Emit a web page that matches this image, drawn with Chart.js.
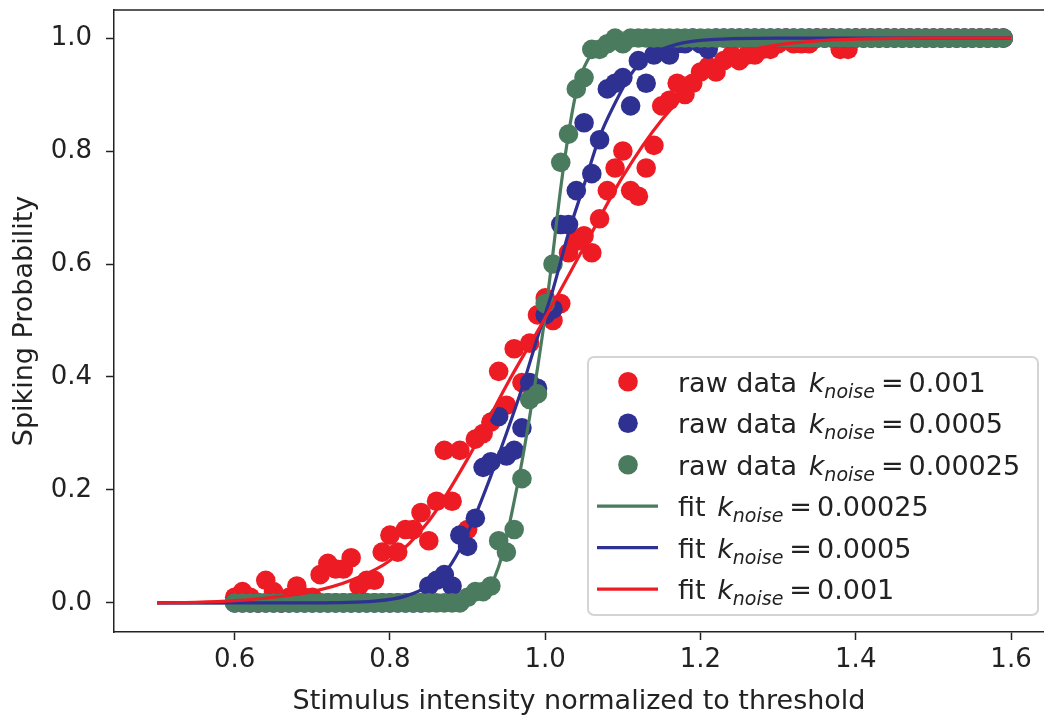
<!DOCTYPE html>
<html>
<head>
<meta charset="utf-8">
<title>Spiking probability</title>
<script src="https://cdn.jsdelivr.net/npm/chart.js@4.4.1/dist/chart.umd.min.js"></script>
<style>
    html, body { margin: 0; padding: 0; background: #fff; }
    #wrap { width: 1044px; height: 719px; }
</style>
</head>
<body>
<div id="wrap"><canvas id="myChart" width="1044" height="719"></canvas></div>
<script>
// stimulus values shared by all three raw series
const stimulus = [
    0.60, 0.61, 0.62, 0.63, 0.64, 0.65, 0.66, 0.67, 0.68, 0.69,
    0.70, 0.71, 0.72, 0.73, 0.74, 0.75, 0.76, 0.77, 0.78, 0.79,
    0.80, 0.81, 0.82, 0.83, 0.84, 0.85, 0.86, 0.87, 0.88, 0.89,
    0.90, 0.91, 0.92, 0.93, 0.94, 0.95, 0.96, 0.97, 0.98, 0.99,
    1.00, 1.01, 1.02, 1.03, 1.04, 1.05, 1.06, 1.07, 1.08, 1.09,
    1.10, 1.11, 1.12, 1.13, 1.14, 1.15, 1.16, 1.17, 1.18, 1.19,
    1.20, 1.21, 1.22, 1.23, 1.24, 1.25, 1.26, 1.27, 1.28, 1.29,
    1.30, 1.31, 1.32, 1.33, 1.34, 1.35, 1.36, 1.37, 1.38, 1.39,
    1.40, 1.41, 1.42, 1.43, 1.44, 1.45, 1.46, 1.47, 1.48, 1.49,
    1.50, 1.51, 1.52, 1.53, 1.54, 1.55, 1.56, 1.57, 1.58, 1.59
];

// raw spiking probabilities, k_noise = 0.001
const rawHigh = [
    0.01, 0.02, 0.01, 0.00, 0.04, 0.02, 0.00, 0.01, 0.03, 0.01,
    0.01, 0.05, 0.07, 0.06, 0.06, 0.08, 0.03, 0.04, 0.04, 0.09,
    0.12, 0.09, 0.13, 0.13, 0.16, 0.11, 0.18, 0.27, 0.18, 0.27,
    0.13, 0.29, 0.30, 0.32, 0.41, 0.35, 0.45, 0.39, 0.46, 0.51,
    0.54, 0.50, 0.53, 0.62, 0.64, 0.65, 0.62, 0.68, 0.73, 0.77,
    0.80, 0.73, 0.72, 0.77, 0.81, 0.88, 0.89, 0.92, 0.90, 0.92,
    0.94, 0.95, 0.94, 0.96, 0.97, 0.96, 0.97, 0.97, 0.98, 0.98,
    0.99, 1.00, 0.99, 0.99, 0.99, 1.00, 1.00, 1.00, 0.98, 0.98,
    1.00, 1.00, 1.00, 1.00, 1.00, 1.00, 1.00, 1.00, 1.00, 1.00,
    1.00, 1.00, 1.00, 1.00, 1.00, 1.00, 1.00, 1.00, 1.00, 1.00
];

// raw spiking probabilities, k_noise = 0.0005
const rawMid = [
    0.00, 0.00, 0.00, 0.00, 0.00, 0.00, 0.00, 0.00, 0.00, 0.00,
    0.00, 0.00, 0.00, 0.00, 0.00, 0.00, 0.00, 0.00, 0.00, 0.00,
    0.00, 0.00, 0.00, 0.00, 0.00, 0.03, 0.04, 0.05, 0.03, 0.12,
    0.10, 0.15, 0.24, 0.25, 0.33, 0.26, 0.27, 0.31, 0.39, 0.38,
    0.51, 0.52, 0.67, 0.67, 0.73, 0.85, 0.76, 0.82, 0.91, 0.92,
    0.93, 0.88, 0.96, 0.92, 0.97, 0.98, 0.97, 0.99, 0.99, 1.00,
    0.99, 0.98, 1.00, 1.00, 1.00, 1.00, 1.00, 1.00, 1.00, 1.00,
    1.00, 1.00, 1.00, 1.00, 1.00, 1.00, 1.00, 1.00, 1.00, 1.00,
    1.00, 1.00, 1.00, 1.00, 1.00, 1.00, 1.00, 1.00, 1.00, 1.00,
    1.00, 1.00, 1.00, 1.00, 1.00, 1.00, 1.00, 1.00, 1.00, 1.00
];

// raw spiking probabilities, k_noise = 0.00025
const rawLow = [
    0.00, 0.00, 0.00, 0.00, 0.00, 0.00, 0.00, 0.00, 0.00, 0.00,
    0.00, 0.00, 0.00, 0.00, 0.00, 0.00, 0.00, 0.00, 0.00, 0.00,
    0.00, 0.00, 0.00, 0.00, 0.00, 0.00, 0.00, 0.00, 0.00, 0.00,
    0.01, 0.02, 0.02, 0.03, 0.11, 0.09, 0.13, 0.22, 0.36, 0.37,
    0.53, 0.60, 0.78, 0.83, 0.91, 0.93, 0.98, 0.98, 0.99, 1.00,
    0.99, 1.00, 1.00, 1.00, 1.00, 1.00, 1.00, 1.00, 1.00, 1.00,
    1.00, 1.00, 1.00, 1.00, 1.00, 1.00, 1.00, 1.00, 1.00, 1.00,
    1.00, 1.00, 1.00, 1.00, 1.00, 1.00, 1.00, 1.00, 1.00, 1.00,
    1.00, 1.00, 1.00, 1.00, 1.00, 1.00, 1.00, 1.00, 1.00, 1.00,
    1.00, 1.00, 1.00, 1.00, 1.00, 1.00, 1.00, 1.00, 1.00, 1.00
];

// fitted curves
const fitHighX = [0.50, 0.55, 0.60, 0.65, 0.70, 0.75, 0.80, 0.85, 0.90, 0.95, 1.00, 1.05, 1.10, 1.15, 1.20, 1.25, 1.30, 1.35, 1.40, 1.50, 1.60];
const fitHighY = [0.000, 0.001, 0.004, 0.010, 0.020, 0.040, 0.075, 0.145, 0.255, 0.385, 0.505, 0.630, 0.755, 0.855, 0.925, 0.972, 0.988, 0.995, 0.998, 1.000, 1.000];

const fitMidX = [0.50, 0.70, 0.78, 0.82, 0.85, 0.87, 0.89, 0.91, 0.93, 0.95, 0.97, 0.99, 1.01, 1.03, 1.05, 1.07, 1.09, 1.11, 1.13, 1.16, 1.20, 1.30, 1.60];
const fitMidY = [0.000, 0.000, 0.003, 0.012, 0.030, 0.052, 0.095, 0.155, 0.225, 0.300, 0.380, 0.470, 0.555, 0.655, 0.740, 0.825, 0.885, 0.935, 0.965, 0.985, 0.996, 1.000, 1.000];

const fitLowX = [0.50, 0.80, 0.88, 0.90, 0.91, 0.92, 0.93, 0.94, 0.95, 0.96, 0.97, 0.98, 0.99, 1.00, 1.01, 1.02, 1.03, 1.04, 1.05, 1.06, 1.08, 1.10, 1.15, 1.60];
const fitLowY = [0.000, 0.000, 0.002, 0.004, 0.008, 0.016, 0.032, 0.064, 0.115, 0.180, 0.250, 0.330, 0.415, 0.510, 0.620, 0.735, 0.830, 0.905, 0.948, 0.972, 0.993, 0.998, 1.000, 1.000];

const xTicks = [0.6, 0.8, 1.0, 1.2, 1.4, 1.6];
const yTicks = [0.0, 0.2, 0.4, 0.6, 0.8, 1.0];

const legendItems = [
    { kind: "dot", label: "raw data ", value: "0.001", color: "#ED1C24" },
    { kind: "dot", label: "raw data ", value: "0.0005", color: "#2E3192" },
    { kind: "dot", label: "raw data ", value: "0.00025", color: "#4A7B5E" },
    { kind: "line", label: "fit ", value: "0.00025", color: "#4A7B5E" },
    { kind: "line", label: "fit ", value: "0.0005", color: "#2E3192" },
    { kind: "line", label: "fit ", value: "0.001", color: "#ED1C24" }
];

const RED = "#ED1C24";
const BLUE = "#2E3192";
const GREEN = "#4A7B5E";
const INK = "#222222";
const FONT = '"DejaVu Sans", sans-serif';

function toPoints(xs, ys) {
    return xs.map((x, i) => ({ x: x, y: ys[i] }));
}

function rawSet(ys, color, order) {
    return {
        data: toPoints(stimulus, ys),
        backgroundColor: color,
        borderWidth: 0,
        pointRadius: 9.8,
        showLine: false,
        order: order
    };
}

function fitSet(xs, ys, color, order) {
    return {
        data: toPoints(xs, ys),
        borderColor: color,
        borderWidth: 3.2,
        pointRadius: 0,
        showLine: true,
        cubicInterpolationMode: "monotone",
        order: order
    };
}

// no extra room for edge labels, keep the plot box fixed
function noEdgePadding(scale) {
    scale.paddingLeft = 0;
    scale.paddingRight = 0;
    scale.paddingTop = 0;
    scale.paddingBottom = 0;
}

// top spine and the boxed legend with k_noise subscripts
const frameAndLegend = {
    id: "frameAndLegend",
    afterDraw(chart) {
        const ctx = chart.ctx;
        const area = chart.chartArea;

        ctx.save();
        ctx.strokeStyle = INK;
        ctx.lineWidth = 1.5;
        ctx.beginPath();
        ctx.moveTo(area.left, area.top);
        ctx.lineTo(area.right, area.top);
        ctx.stroke();

        const box = { x: 588, y: 357, w: 450, h: 258 };
        ctx.beginPath();
        ctx.roundRect(box.x, box.y, box.w, box.h, 6);
        ctx.fillStyle = "rgba(255,255,255,0.85)";
        ctx.fill();
        ctx.strokeStyle = "#d4d4d4";
        ctx.lineWidth = 2;
        ctx.stroke();

        const rowTop = 381.7;
        const rowStep = 41.5;
        legendItems.forEach((item, i) => {
            const cy = rowTop + i * rowStep;
            if (item.kind === "dot") {
                ctx.beginPath();
                ctx.arc(628, cy, 9.8, 0, Math.PI * 2);
                ctx.fillStyle = item.color;
                ctx.fill();
            } else {
                ctx.beginPath();
                ctx.moveTo(597, cy);
                ctx.lineTo(658, cy);
                ctx.strokeStyle = item.color;
                ctx.lineWidth = 3.2;
                ctx.stroke();
            }
            drawLabel(ctx, 678, cy + 10, item.label, item.value);
        });
        ctx.restore();
    }
};

function drawLabel(ctx, x, y, prefix, value) {
    ctx.fillStyle = INK;
    ctx.textBaseline = "alphabetic";
    ctx.textAlign = "left";

    ctx.font = "27px " + FONT;
    ctx.fillText(prefix, x, y);
    x += ctx.measureText(prefix).width + 3;

    ctx.font = "italic 27px " + FONT;
    ctx.fillText("k", x, y);
    x += ctx.measureText("k").width;

    ctx.font = "italic 19px " + FONT;
    ctx.fillText("noise", x, y + 6);
    x += ctx.measureText("noise").width + 6;

    ctx.font = "27px " + FONT;
    ctx.fillText("=", x, y);
    x += ctx.measureText("=").width + 5;
    ctx.fillText(value, x, y);
}

Chart.defaults.font.family = FONT;
Chart.defaults.color = INK;

const ctx = document.getElementById("myChart");

new Chart(ctx, {
    type: "scatter",
    data: {
        datasets: [
            rawSet(rawHigh, RED, 6),
            rawSet(rawMid, BLUE, 5),
            rawSet(rawLow, GREEN, 4),
            fitSet(fitLowX, fitLowY, GREEN, 3),
            fitSet(fitMidX, fitMidY, BLUE, 2),
            fitSet(fitHighX, fitHighY, RED, 1)
        ]
    },
    options: {
        responsive: false,
        animation: false,
        devicePixelRatio: 1,
        layout: {
            autoPadding: false,
            padding: { top: 10, left: 0, right: 0, bottom: 0 }
        },
        plugins: {
            legend: { display: false },
            tooltip: { enabled: false }
        },
        scales: {
            x: {
                type: "linear",
                min: 0.4445,
                max: 1.6425,
                afterBuildTicks: (scale) => {
                    scale.ticks = xTicks.map(v => ({ value: v }));
                },
                afterFit: (scale) => {
                    scale.height = 87;
                    noEdgePadding(scale);
                },
                ticks: {
                    font: { size: 26 },
                    color: INK,
                    padding: 5,
                    maxRotation: 0,
                    callback: (v) => v.toFixed(1)
                },
                grid: {
                    drawOnChartArea: false,
                    drawTicks: true,
                    tickLength: 8,
                    tickWidth: 1.5,
                    tickColor: INK
                },
                border: { display: true, color: INK, width: 1.5 },
                title: {
                    display: true,
                    text: "Stimulus intensity normalized to threshold",
                    font: { size: 27 },
                    color: INK,
                    padding: { top: 0, bottom: 1 }
                }
            },
            y: {
                type: "linear",
                min: -0.0515,
                max: 1.0497,
                afterBuildTicks: (scale) => {
                    scale.ticks = yTicks.map(v => ({ value: v }));
                },
                afterFit: (scale) => {
                    scale.width = 114;
                    noEdgePadding(scale);
                },
                ticks: {
                    font: { size: 26 },
                    color: INK,
                    padding: 14,
                    callback: (v) => v.toFixed(1)
                },
                grid: {
                    drawOnChartArea: false,
                    drawTicks: true,
                    tickLength: 8,
                    tickWidth: 1.5,
                    tickColor: INK
                },
                border: { display: true, color: INK, width: 1.5 },
                title: {
                    display: true,
                    text: "Spiking Probability",
                    font: { size: 27 },
                    color: INK,
                    padding: { top: 9, bottom: 0 }
                }
            }
        }
    },
    plugins: [frameAndLegend]
});
</script>
</body>
</html>
